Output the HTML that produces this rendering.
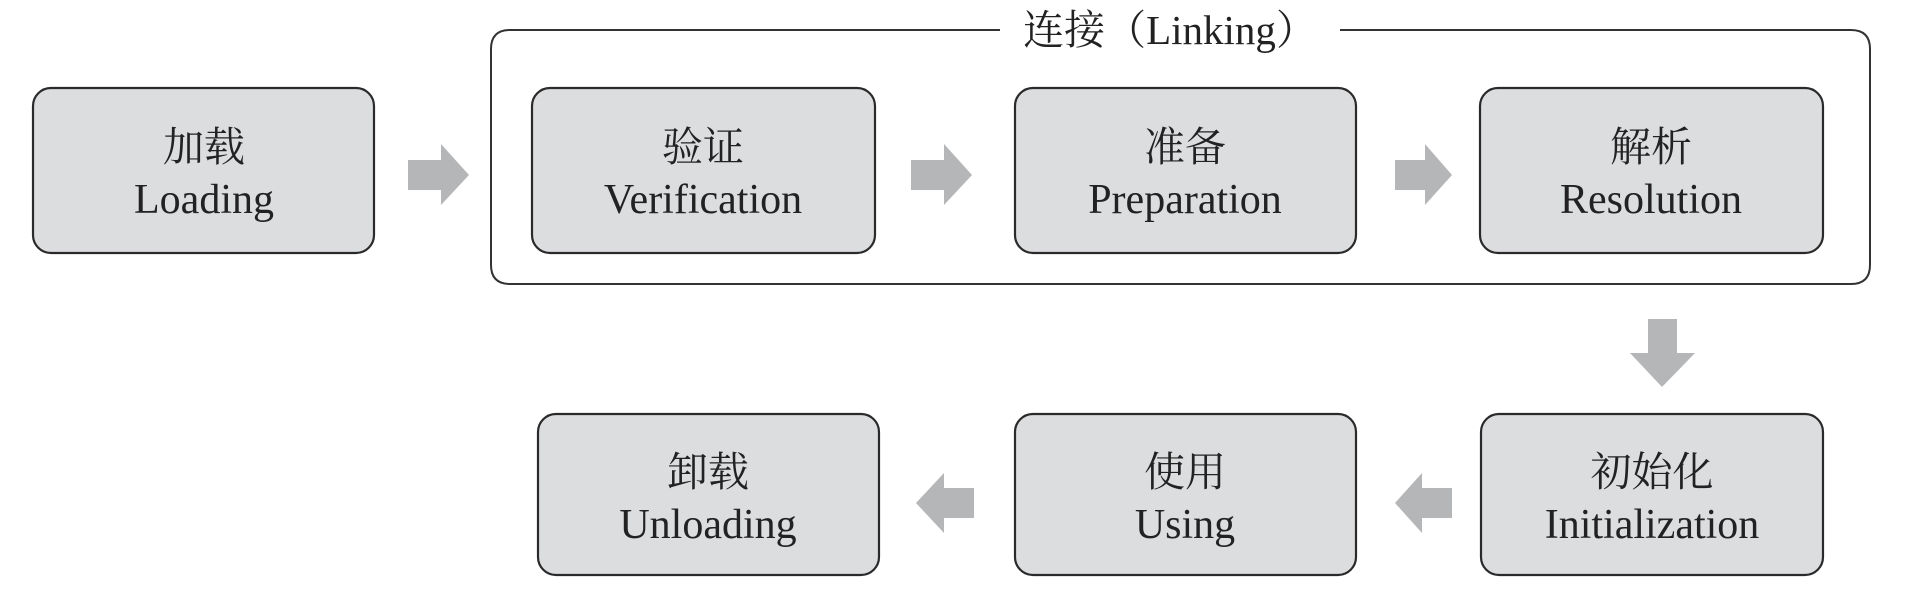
<!DOCTYPE html>
<html><head><meta charset="utf-8"><style>
html,body{margin:0;padding:0;background:#fff;}
svg{display:block}
text{font-family:"Liberation Serif","Noto Serif CJK SC",serif;fill:#222;text-anchor:middle}
.cn{font-size:41px}
.en{font-size:42px}
</style></head><body>
<svg width="1910" height="592" viewBox="0 0 1910 592" xmlns="http://www.w3.org/2000/svg">
<g fill="#dcdddf" stroke="#2a2a2a" stroke-width="2.2">
<rect x="33" y="88" width="341" height="165" rx="18"/>
<rect x="532" y="88" width="343" height="165" rx="18"/>
<rect x="1015" y="88" width="341" height="165" rx="18"/>
<rect x="1480" y="88" width="343" height="165" rx="18"/>
<rect x="538" y="414" width="341" height="161" rx="18"/>
<rect x="1015" y="414" width="341" height="161" rx="18"/>
<rect x="1481" y="414" width="342" height="161" rx="18"/>
</g>
<path d="M1000 30 H510 Q491 30 491 49 V265 Q491 284 510 284 H1851 Q1870 284 1870 265 V49 Q1870 30 1851 30 H1340" fill="none" stroke="#333" stroke-width="2"/>
<text x="1170" y="44" style="font-size:41px">连接（Linking）</text>
<g fill="#b5b6b8">
<polygon points="408,160 441,160 441,144 469,175 441,205 441,190 408,190"/>
<polygon points="911,160 944,160 944,144 972,175 944,205 944,190 911,190"/>
<polygon points="1395,160 1425,160 1425,144 1452,175 1425,205 1425,190 1395,190"/>
<polygon points="1648,319 1677,319 1677,353 1695,353 1662,387 1630,353 1648,353"/>
<polygon points="1452,488 1422,488 1422,473 1395,503 1422,533 1422,518 1452,518"/>
<polygon points="974,488 944,488 944,473 916,503 944,533 944,518 974,518"/>
</g>
<text class="cn" x="204" y="161">加载</text><text class="en" x="204" y="213">Loading</text>
<text class="cn" x="703" y="161">验证</text><text class="en" x="703" y="213">Verification</text>
<text class="cn" x="1185" y="161">准备</text><text class="en" x="1185" y="213">Preparation</text>
<text class="cn" x="1651" y="161">解析</text><text class="en" x="1651" y="213">Resolution</text>
<text class="cn" x="708" y="486">卸载</text><text class="en" x="708" y="538">Unloading</text>
<text class="cn" x="1185" y="486">使用</text><text class="en" x="1185" y="538">Using</text>
<text class="cn" x="1652" y="486">初始化</text><text class="en" x="1652" y="538">Initialization</text>
</svg>
</body></html>
